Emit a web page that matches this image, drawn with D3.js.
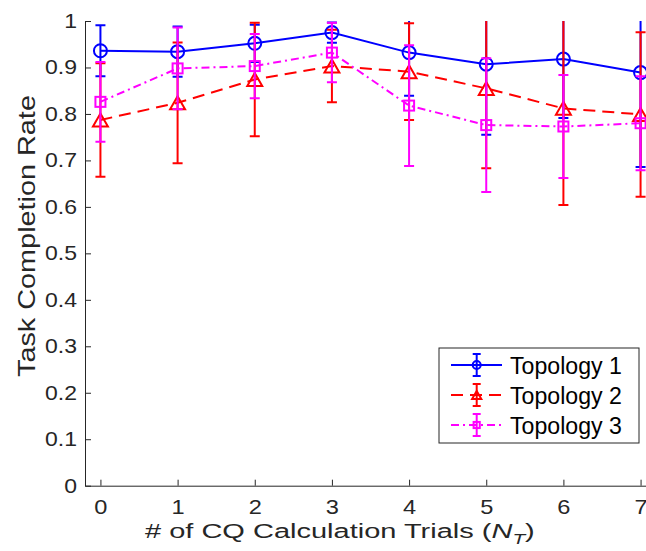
<!DOCTYPE html>
<html>
<head>
<meta charset="utf-8">
<script src="https://cdn.jsdelivr.net/npm/d3@7"></script>
<style>
  html, body { margin: 0; padding: 0; background: #fff; }
  svg { display: block; font-family: "Liberation Sans", Arial, Helvetica, sans-serif; }
</style>
</head>
<body>
<div id="chart"></div>
<script>
// ── Data ────────────────────────────────────────────────────────────────────
const trials   = [0, 1, 2, 3, 4, 5, 6, 7];
const topo1    = [0.936, 0.934, 0.952, 0.975, 0.932, 0.907, 0.918, 0.889];
const topo1Err = [0.055, 0.054, 0.040, 0.022, 0.093, 0.152, 0.127, 0.203];
const topo2    = [0.787, 0.824, 0.874, 0.903, 0.891, 0.855, 0.812, 0.799];
const topo2Err = [0.122, 0.130, 0.122, 0.078, 0.104, 0.172, 0.208, 0.177];
const topo3    = [0.826, 0.898, 0.903, 0.932, 0.818, 0.776, 0.773, 0.780];
const topo3Err = [0.086, 0.088, 0.069, 0.064, 0.130, 0.144, 0.111, 0.101];
const seriesNames = ['Topology 1', 'Topology 2', 'Topology 3'];
const yTicks = [0, 0.1, 0.2, 0.3, 0.4, 0.5, 0.6, 0.7, 0.8, 0.9, 1];

const W = 646, H = 551;
const ink = '#262626';

const series = [
  { name: seriesNames[0], vals: topo1, err: topo1Err, color: '#0000ff', dash: null,       marker: 'circle' },
  { name: seriesNames[1], vals: topo2, err: topo2Err, color: '#ff0000', dash: '12,7',     marker: 'triangle' },
  { name: seriesNames[2], vals: topo3, err: topo3Err, color: '#ff00ff', dash: '8,4,2,4',  marker: 'square' },
];

const svg = d3.select('#chart').append('svg')
  .attr('width', W).attr('height', H);

// ── Scales ──────────────────────────────────────────────────────────────────
const x = d3.scaleLinear().domain([-0.2, 7.2]).range([85, 656]);
const y = d3.scaleLinear().domain([0, 1]).range([485.7, 21]);

svg.append('defs').append('clipPath').attr('id', 'plot-clip')
  .append('rect')
  .attr('x', x.range()[0]).attr('y', y.range()[1])
  .attr('width', x.range()[1] - x.range()[0])
  .attr('height', y.range()[0] - y.range()[1]);

// ── Axes (MATLAB-ish: inward ticks, no box) ─────────────────────────────────
const xAxisG = svg.append('g')
  .attr('transform', `translate(0,${y(0)})`)
  .call(d3.axisBottom(x).tickValues(trials).tickFormat(d3.format('d'))
    .tickSizeInner(-6).tickSizeOuter(0).tickPadding(14));

const yAxisG = svg.append('g')
  .attr('transform', `translate(${x.range()[0]},0)`)
  .call(d3.axisLeft(y).tickValues(yTicks).tickFormat(d3.format('~g'))
    .tickSizeInner(-6).tickSizeOuter(0).tickPadding(8));

[xAxisG, yAxisG].forEach(g => {
  g.select('.domain').attr('stroke', ink);
  g.selectAll('.tick line').attr('stroke', ink);
  g.selectAll('.tick text')
    .attr('fill', ink)
    .attr('font-size', 20)
    .attr('font-family', null);
});
xAxisG.selectAll('.tick text').attr('transform', 'scale(1.18,1)');
yAxisG.selectAll('.tick text')
  .attr('x', 0)
  .attr('transform', 'translate(-8,0) scale(1.15,1)');

// stretch a text node horizontally so it spans `width` px
function stretchTo(textSel, left, base, width, rot) {
  const w = textSel.node().getBBox().width;
  const k = width / w;
  textSel.attr('transform',
    `translate(${left},${base})${rot ? ` rotate(${rot})` : ''} scale(${k},1)`);
}

// ── Axis labels ─────────────────────────────────────────────────────────────
const xLab = svg.append('text')
  .attr('fill', ink).attr('font-size', 21);
xLab.append('tspan').text('# of CQ Calculation Trials (');
xLab.append('tspan').attr('font-style', 'italic').text('N');
xLab.append('tspan').attr('font-style', 'italic').attr('font-size', 15).attr('dy', 6).text('T');
xLab.append('tspan').attr('dy', -6).text(')');
stretchTo(xLab, 145, 538, 390);

const yLab = svg.append('text')
  .attr('fill', ink).attr('font-size', 24)
  .text('Task Completion Rate');
stretchTo(yLab, 35, 377, 282, -90);

// ── Markers ─────────────────────────────────────────────────────────────────
function drawMarker(g, type, cx, cy, s, color) {
  if (type === 'circle') {
    g.append('circle').attr('cx', cx).attr('cy', cy).attr('r', s)
      .attr('fill', 'none').attr('stroke', color).attr('stroke-width', 2);
  } else if (type === 'triangle') {
    const h = s, b = s * 1.15;
    g.append('path')
      .attr('d', `M${cx},${cy - h}L${cx + b},${cy + h}L${cx - b},${cy + h}Z`)
      .attr('fill', 'none').attr('stroke', color).attr('stroke-width', 2)
      .attr('stroke-linejoin', 'miter');
  } else {
    const a = s * 0.77;
    g.append('rect').attr('x', cx - a).attr('y', cy - a)
      .attr('width', 2 * a).attr('height', 2 * a)
      .attr('fill', 'none').attr('stroke', color).attr('stroke-width', 2);
  }
}

// ── Series ──────────────────────────────────────────────────────────────────
const plot = svg.append('g').attr('clip-path', 'url(#plot-clip)');
const line = d3.line().x(d => x(d.t)).y(d => y(d.v));
const capHalf = 5;

series.forEach(s => {
  const pts = trials.map((t, i) => ({ t, v: s.vals[i], e: s.err[i] }));
  const g = plot.append('g');

  pts.forEach(p => {
    const cx = x(p.t), top = y(p.v + p.e), bot = y(p.v - p.e);
    g.append('line').attr('x1', cx).attr('x2', cx).attr('y1', top).attr('y2', bot)
      .attr('stroke', s.color).attr('stroke-width', 2);
    [top, bot].forEach(yy => g.append('line')
      .attr('x1', cx - capHalf).attr('x2', cx + capHalf).attr('y1', yy).attr('y2', yy)
      .attr('stroke', s.color).attr('stroke-width', 2));
  });

  g.append('path').datum(pts).attr('d', line)
    .attr('fill', 'none').attr('stroke', s.color).attr('stroke-width', 2)
    .attr('stroke-dasharray', s.dash);

  pts.forEach(p => drawMarker(g, s.marker, x(p.t), y(p.v), 6.5, s.color));
});

// ── Legend ──────────────────────────────────────────────────────────────────
const leg = svg.append('g');
leg.append('rect')
  .attr('x', 439).attr('y', 348).attr('width', 200).attr('height', 95)
  .attr('fill', '#fff').attr('stroke', ink).attr('stroke-width', 1);

series.forEach((s, i) => {
  const cy = 365 + i * 30, mx = 476.7;
  leg.append('line').attr('x1', 451).attr('x2', 502).attr('y1', cy).attr('y2', cy)
    .attr('stroke', s.color).attr('stroke-width', 2).attr('stroke-dasharray', s.dash);
  leg.append('line').attr('x1', mx).attr('x2', mx).attr('y1', cy - 11).attr('y2', cy + 11)
    .attr('stroke', s.color).attr('stroke-width', 2);
  [cy - 11, cy + 11].forEach(yy => leg.append('line')
    .attr('x1', mx - 4).attr('x2', mx + 4).attr('y1', yy).attr('y2', yy)
    .attr('stroke', s.color).attr('stroke-width', 2));
  drawMarker(leg, s.marker, mx, cy, 4, s.color);

  const t = leg.append('text').attr('fill', '#000').attr('font-size', 24).text(s.name);
  stretchTo(t, 510, cy + 9, 112);
});
</script>
</body>
</html>
